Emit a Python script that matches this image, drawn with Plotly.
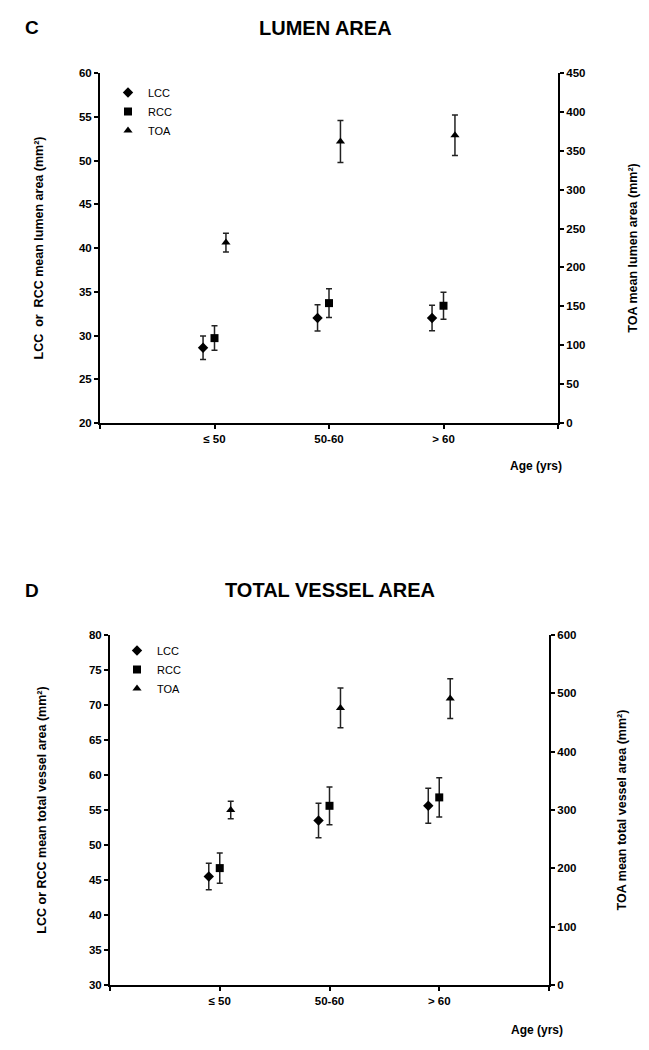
import plotly.graph_objects as go

# ---- data ----
age_groups = ["≤ 50", "50-60", "> 60"]

# Panel C: lumen area
lumen_lcc = [28.6, 32.0, 32.0]
lumen_lcc_err = [1.35, 1.5, 1.45]
lumen_rcc = [29.7, 33.7, 33.4]
lumen_rcc_err = [1.4, 1.65, 1.55]
lumen_toa = [232, 362, 370]
lumen_toa_err = [12, 27, 26]

# Panel D: total vessel area
tva_lcc = [45.5, 53.5, 55.6]
tva_lcc_err = [1.9, 2.45, 2.5]
tva_rcc = [46.7, 55.6, 56.8]
tva_rcc_err = [2.15, 2.7, 2.8]
tva_toa = [300, 475, 491]
tva_toa_err = [15, 34, 34]

W, H = 649, 1050
FONT = "Liberation Sans, Arial, sans-serif"

pos = [i + 1 for i in range(len(age_groups))]
off = 0.1


def shifted(d):
    return [p + d for p in pos]


def px_x(v):
    return v / W


def px_y(v):
    return 1 - v / H


fig = go.Figure()

panels = [
    dict(xa="x", ya="y", ya2="y2", legend="legend",
         data=[("LCC", lumen_lcc, lumen_lcc_err, "diamond", 8, -off, False),
               ("RCC", lumen_rcc, lumen_rcc_err, "square", 8, 0.0, False),
               ("TOA", lumen_toa, lumen_toa_err, "triangle-up", 8, off, True)]),
    dict(xa="x2", ya="y3", ya2="y4", legend="legend2",
         data=[("LCC", tva_lcc, tva_lcc_err, "diamond", 8, -off, False),
               ("RCC", tva_rcc, tva_rcc_err, "square", 8, 0.0, False),
               ("TOA", tva_toa, tva_toa_err, "triangle-up", 8, off, True)]),
]

for p in panels:
    for name, vals, errs, sym, sz, d, right in p["data"]:
        fig.add_trace(go.Scatter(
            x=shifted(d), y=vals, name=name, mode="markers",
            marker=dict(symbol=sym, size=sz, color="black"),
            error_y=dict(type="data", array=errs, visible=True,
                         color="#222", thickness=1.5, width=3),
            xaxis=p["xa"], yaxis=p["ya2"] if right else p["ya"],
            legend=p["legend"], showlegend=True,
        ))

tickfont = dict(family=FONT, size=11.5, color="black", weight="bold")
titlefont = dict(family=FONT, size=12.5, color="black", weight="bold")
axis_common = dict(showgrid=False, zeroline=False, showline=True,
                   linecolor="black", linewidth=2, ticks="outside",
                   ticklen=4, tickwidth=1.5, tickcolor="black",
                   tickfont=tickfont, automargin=False)

xticks = dict(tickmode="array", tickvals=[0] + pos + [len(pos) + 1],
              ticktext=[""] + age_groups + [""])

# Panel C layout (plot area x 100-558, y 73-423)
fig.update_layout(
    xaxis=dict(domain=[px_x(100), px_x(558)], range=[0, 4], anchor="y",
               **xticks, **axis_common),
    yaxis=dict(domain=[px_y(423), px_y(73)], range=[20, 60], dtick=5,
               anchor="x",
               title=dict(text="LCC  or  RCC mean lumen area (mm²)",
                          font=titlefont, standoff=33),
               **axis_common),
    yaxis2=dict(range=[0, 450], dtick=50, overlaying="y", side="right",
                anchor="x",
                title=dict(text="TOA mean lumen area (mm²)",
                           font=titlefont, standoff=44),
                **axis_common),
    # Panel D layout (plot area x 110-549, y 635-985)
    xaxis2=dict(domain=[px_x(110), px_x(549)], range=[0, 4], anchor="y3",
                **xticks, **axis_common),
    yaxis3=dict(domain=[px_y(985), px_y(635)], range=[30, 80], dtick=5,
                anchor="x2",
                title=dict(text="LCC or RCC mean total vessel area (mm²)",
                           font=titlefont, standoff=40),
                **axis_common),
    yaxis4=dict(range=[0, 600], dtick=100, overlaying="y3", side="right",
                anchor="x2",
                title=dict(text="TOA mean total vessel area (mm²)",
                           font=titlefont, standoff=42),
                **axis_common),
)

legend_common = dict(font=dict(family=FONT, size=11, color="black"),
                     bgcolor="rgba(0,0,0,0)", itemwidth=30,
                     tracegroupgap=0, xanchor="left", yanchor="top")
fig.update_layout(
    legend=dict(x=px_x(108), y=px_y(78), **legend_common),
    legend2=dict(x=px_x(117), y=px_y(636), **legend_common),
)

annots = [
    dict(text="<b>C</b>", x=px_x(32), y=px_y(28), size=19),
    dict(text="<b>LUMEN AREA</b>", x=px_x(325), y=px_y(28), size=20),
    dict(text="<b>Age (yrs)</b>", x=px_x(536), y=px_y(466), size=12),
    dict(text="<b>D</b>", x=px_x(32), y=px_y(590), size=19),
    dict(text="<b>TOTAL VESSEL AREA</b>", x=px_x(330), y=px_y(590), size=20),
    dict(text="<b>Age (yrs)</b>", x=px_x(537), y=px_y(1030), size=12),
]
for a in annots:
    fig.add_annotation(text=a["text"], x=a["x"], y=a["y"], xref="paper",
                       yref="paper", showarrow=False, xanchor="center",
                       yanchor="middle",
                       font=dict(family=FONT, size=a["size"], color="black"))

fig.update_layout(
    width=W, height=H, margin=dict(l=0, r=0, t=0, b=0),
    paper_bgcolor="white", plot_bgcolor="white",
    font=dict(family=FONT, color="black"),
)

fig.write_html(
    "out.html",
    config={"displayModeBar": False},
    post_script="document.body.style.margin='0';document.body.style.padding='0';",
)
